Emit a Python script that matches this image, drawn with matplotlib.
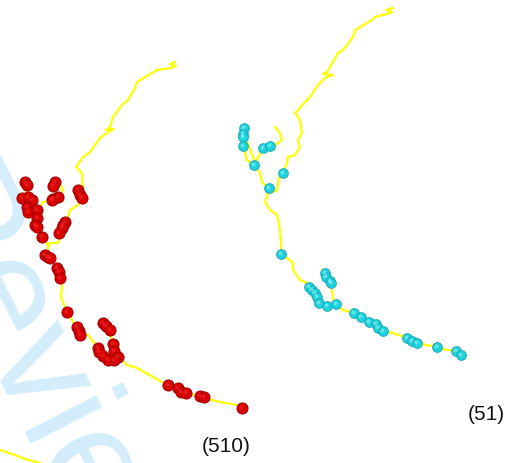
import matplotlib
matplotlib.use("Agg")
import matplotlib.pyplot as plt

# --- track 1 (left, red stops) in image pixel coords ---
t1_main_x = [175, 170, 176, 171, 157, 137, 135, 128, 122, 113, 110, 106, 114, 108, 100, 90, 83, 76, 82, 83,
             80, 78, 70, 68, 64, 60, 58, 50, 48, 47, 52, 58, 60, 62, 61, 62, 67, 72, 78, 88, 92, 98, 103,
             113, 120, 127, 137, 153, 167, 180, 200, 220, 237, 242]
t1_main_y = [62, 64, 66, 68, 70, 82, 88, 100, 105, 117, 127, 130, 129, 132, 138, 152, 157, 167, 173, 190,
             198, 205, 210, 217, 225, 237, 243, 243, 248, 257, 262, 270, 277, 287, 295, 300, 312, 320, 330,
             335, 340, 347, 355, 358, 358, 365, 368, 377, 385, 390, 397, 402, 405, 408]
t1_br_a_x = [25, 26, 28, 33, 36, 38, 42, 48]
t1_br_a_y = [183, 190, 200, 210, 218, 228, 237, 245]
t1_br_b_x = [55, 60, 63, 58, 52, 43, 40, 36]
t1_br_b_y = [182, 183, 190, 197, 200, 202, 207, 212]
t1_br_c_x = [110, 112, 113, 116, 113]
t1_br_c_y = [333, 340, 348, 356, 358]

t1_dots_x = [25, 27, 22, 28, 32, 27, 28, 37, 37, 35, 37, 42, 55, 53, 58, 53, 52, 78, 80, 82, 65, 63, 62, 59,
             45, 48, 50, 57, 59, 60, 67, 77, 79, 80, 103, 106, 110, 113, 114, 118, 114, 108, 103, 98, 99,
             168, 178, 181, 186, 200, 204, 242]
t1_dots_y = [182, 185, 198, 197, 200, 207, 212, 210, 218, 225, 227, 237, 182, 186, 197, 199, 200, 190, 195,
             198, 222, 225, 228, 233, 255, 257, 258, 268, 272, 278, 312, 327, 331, 335, 323, 326, 330, 344,
             351, 357, 360, 360, 356, 348, 352, 385, 388, 392, 393, 396, 397, 408]

# --- track 2 (right, cyan stops) ---
t2_main_x = [393, 386, 392, 387, 375, 372, 355, 353, 347, 343, 338, 330, 327, 323, 333, 325, 323, 318, 310,
             305, 298, 295, 300, 302, 298, 300, 295, 288, 287, 283, 279, 277, 273, 268, 265, 270, 277, 280,
             281, 281, 287, 293, 293, 300, 307, 312, 317, 319, 327, 336, 343, 354, 361, 369, 376, 383, 393,
             407, 417, 427, 437, 447, 456, 461]
t2_main_y = [8, 10, 12, 14, 17, 20, 30, 37, 45, 50, 53, 67, 72, 74, 75, 78, 80, 85, 97, 102, 110, 113, 120,
             133, 140, 147, 155, 157, 163, 172, 178, 190, 192, 193, 202, 210, 215, 230, 245, 254, 258, 263,
             270, 280, 283, 290, 297, 303, 306, 304, 310, 313, 317, 322, 324, 331, 333, 338, 343, 345, 347,
             350, 351, 355]
t2_br_a_x = [244, 243, 247, 245, 247, 254, 260, 262, 267, 268]
t2_br_a_y = [128, 137, 143, 153, 160, 165, 173, 182, 187, 193]
t2_br_b_x = [275, 280, 282, 275, 270, 263, 255, 248]
t2_br_b_y = [127, 133, 140, 145, 146, 148, 163, 143]
t2_br_c_x = [322, 326, 331, 332, 333, 336]
t2_br_c_y = [270, 277, 283, 288, 300, 304]

t2_dots_x = [244, 243, 243, 243, 254, 263, 270, 283, 269, 281, 309, 312, 315, 317, 319, 327, 336, 325, 326,
             330, 331, 354, 361, 369, 376, 378, 383, 407, 412, 417, 437, 456, 461]
t2_dots_y = [128, 134, 137, 146, 165, 148, 146, 173, 188, 254, 287, 290, 293, 297, 303, 306, 304, 273, 277,
             281, 283, 313, 317, 322, 324, 328, 331, 338, 341, 343, 347, 351, 355]

# piece of the next panel peeking in at the bottom
t3_x = [0, 12, 25, 40]
t3_y = [450, 454, 459, 463]

labels = ["(510)", "(51)"]

fig = plt.figure(figsize=(5.17, 4.63), dpi=100)
ax = fig.add_axes([0, 0, 1, 1])
ax.set_xlim(0, 517)
ax.set_ylim(463, 0)
ax.axis("off")

# watermark
ax.text(-108, 194, "Review", rotation=-63, rotation_mode="anchor", fontsize=109,
        color="#d4edfa", family="Liberation Sans", ha="left", va="baseline", zorder=0)

yellow = dict(color="#ffff00", lw=1.6, solid_joinstyle="round", zorder=2)
for xs, ys in [(t1_main_x, t1_main_y), (t1_br_a_x, t1_br_a_y), (t1_br_b_x, t1_br_b_y),
               (t1_br_c_x, t1_br_c_y), (t2_main_x, t2_main_y), (t2_br_a_x, t2_br_a_y),
               (t2_br_b_x, t2_br_b_y), (t2_br_c_x, t2_br_c_y), (t3_x, t3_y)]:
    ax.plot(xs, ys, **yellow)

# spheres: base + highlight
ax.plot(t1_dots_x, t1_dots_y, "o", ms=8, color="#d80000", mec="#a00000", mew=0.7, zorder=3)
ax.plot([x - 1 for x in t1_dots_x], [y - 1 for y in t1_dots_y], "o", ms=3, color="#f02a2a",
        mew=0, alpha=0.6, zorder=4)
ax.plot(t2_dots_x, t2_dots_y, "o", ms=7, color="#1fd3de", mec="#10a5b0", mew=0.6, zorder=3)
ax.plot([x - 1 for x in t2_dots_x], [y - 1 for y in t2_dots_y], "o", ms=2.8, color="#8ff0f5",
        mew=0, alpha=0.6, zorder=4)

ax.text(226, 447, labels[0], fontsize=15, family="Liberation Sans", ha="center", va="center",
        color="#111111")
ax.text(486, 415, labels[1], fontsize=15, family="Liberation Sans", ha="center", va="center",
        color="#111111")

fig.savefig("out.png", dpi=100)
